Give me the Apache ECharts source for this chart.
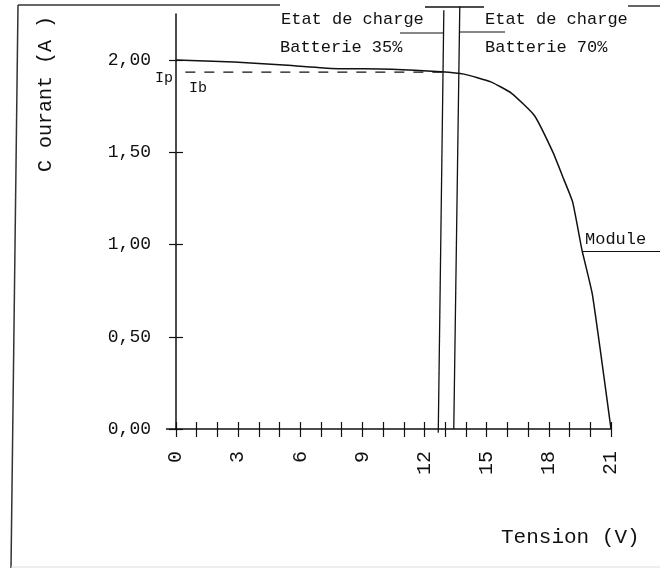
<!DOCTYPE html>
<html>
<head>
<meta charset="utf-8">
<script src="https://cdn.jsdelivr.net/npm/echarts@6/dist/echarts.min.js"></script>
<style>
  html, body { margin: 0; padding: 0; background: #fff; }
  #chart { width: 660px; height: 569px; }
</style>
</head>
<body>
<div id="chart"></div>
<script>
// I-V curve of the module (V, A)
var moduleV = [0, 2.8, 5.2, 7.5, 10.4, 12.8, 13.9, 15.2, 16.2, 17.3, 18.2, 18.7, 19.15, 19.6, 20.1, 21];
var moduleI = [2.00, 1.99, 1.973, 1.955, 1.951, 1.937, 1.924, 1.882, 1.82, 1.70, 1.50, 1.36, 1.23, 0.97, 0.73, 0];

// battery load lines (bottom, top)
var batt35V = [12.66, 12.93];
var batt35I = [-0.02, 2.27];
var batt70V = [13.41, 13.70];
var batt70I = [0, 2.29];

// Ip / Ib dashed level
var ipV = [0.45, 12.85];
var ipI = [1.935, 1.935];

var xLabels = [0, 3, 6, 9, 12, 15, 18, 21];
var yTicks = [0, 0.5, 1, 1.5, 2];

function pairs(xs, ys) {
  return xs.map(function (x, i) { return [x, ys[i]]; });
}

var FONT = '"Liberation Mono", "Courier New", monospace';
var INK = '#111';

// main grid box
var G = { left: 176, right: 49, top: 14, bottom: 140 };
var plotH = 569 - G.top - G.bottom;

var chart = echarts.init(document.getElementById('chart'));

function txt(x, y, s, size) {
  return { type: 'text', x: x, y: y, silent: true,
    style: { text: s, fill: INK, font: size + 'px ' + FONT, textVerticalAlign: 'middle' } };
}
function seg(x1, y1, x2, y2, color, w) {
  return { type: 'line', silent: true,
    shape: { x1: x1, y1: y1, x2: x2, y2: y2 },
    style: { stroke: color || INK, lineWidth: w || 1.2 } };
}

var tickStyle = { color: INK, width: 1.2 };

chart.setOption({
  animation: false,
  backgroundColor: '#fff',
  grid: [
    G,
    // helper grid shifted 7px right, only carries the right half of the y ticks
    { left: G.left + 7, right: G.right, top: G.top, bottom: G.bottom }
  ],
  xAxis: [{
    type: 'value', min: 0, max: 21, interval: 1,
    axisLine: { lineStyle: { color: INK, width: 1.5 } },
    axisTick: { length: 8, lineStyle: tickStyle },
    axisLabel: {
      customValues: xLabels, rotate: 90, margin: 22,
      color: INK, fontFamily: FONT, fontSize: 20
    },
    splitLine: { show: false }
  }, {
    // upper half of the crossing ticks
    type: 'value', min: 0, max: 21, interval: 1, position: 'top', offset: -plotH,
    axisLine: { show: false },
    axisTick: { length: 7, lineStyle: tickStyle },
    axisLabel: { show: false },
    splitLine: { show: false }
  }, {
    gridIndex: 1, type: 'value', min: 0, max: 21, show: false
  }],
  yAxis: [{
    type: 'value', min: 0, max: 2.25, interval: 0.5,
    axisLine: { lineStyle: { color: INK, width: 1.5 } },
    axisTick: { customValues: yTicks, length: 7, lineStyle: tickStyle },
    axisLabel: {
      customValues: yTicks, margin: 25, color: INK, fontFamily: FONT, fontSize: 18,
      formatter: function (v) { return v.toFixed(2).replace('.', ','); }
    },
    splitLine: { show: false }
  }, {
    gridIndex: 1, type: 'value', min: 0, max: 2.25, interval: 0.5, position: 'left',
    axisLine: { show: false, onZero: false },
    axisTick: { customValues: yTicks, length: 7, lineStyle: tickStyle },
    axisLabel: { show: false },
    splitLine: { show: false }
  }],
  series: [{
    name: 'Module', type: 'line', data: pairs(moduleV, moduleI),
    showSymbol: false, smooth: 0.15, lineStyle: { color: INK, width: 1.5 }
  }, {
    name: 'Ip', type: 'line', data: pairs(ipV, ipI), showSymbol: false,
    lineStyle: { color: INK, width: 1.2, type: [10, 9] }
  }, {
    name: 'Batterie 35%', type: 'line', data: pairs(batt35V, batt35I),
    showSymbol: false, clip: false, lineStyle: { color: INK, width: 1.3 }
  }, {
    name: 'Batterie 70%', type: 'line', data: pairs(batt70V, batt70I),
    showSymbol: false, clip: false, lineStyle: { color: INK, width: 1.3 }
  }],
  graphic: [
    // scanned frame bits
    seg(18, 5, 280, 5, '#333', 1.3),
    seg(18, 5, 11, 568, '#333', 1.5),
    seg(11, 567, 660, 567, '#ddd', 1),
    seg(425, 7, 484, 7, INK, 1.3),
    seg(628, 6, 660, 6, INK, 1.3),
    seg(166, 429, 176, 429, INK, 1.5),
    // leader lines
    seg(400, 33, 443, 33, INK, 1.2),
    seg(460, 32, 505, 32, INK, 1.2),
    seg(583, 251.5, 660, 251.5, INK, 1.2),
    // texts
    txt(281, 19, 'Etat de charge', 17),
    txt(280, 47, 'Batterie 35%', 17),
    txt(485, 19, 'Etat de charge', 17),
    txt(485, 47, 'Batterie 70%', 17),
    txt(585, 239, 'Module', 17),
    txt(155, 78, 'Ip', 15),
    txt(189, 88, 'Ib', 15),
    txt(501, 537, 'Tension (V)', 21),
    {
      type: 'text', x: 46, y: 94, rotation: Math.PI / 2, silent: true,
      style: { text: 'C ourant (A )', fill: INK, font: '20px ' + FONT,
        textAlign: 'center', textVerticalAlign: 'middle' }
    }
  ]
});
</script>
</body>
</html>
